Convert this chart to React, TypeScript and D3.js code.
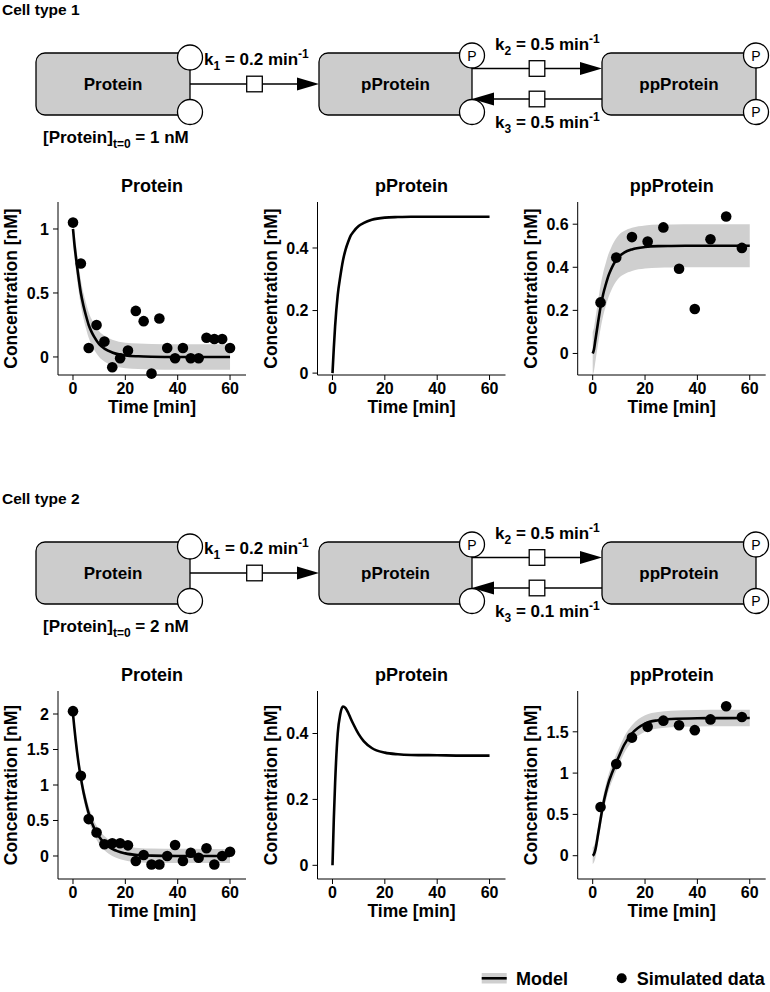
import * as d3 from "d3"

const FONT = '"Liberation Sans", Arial, Helvetica, sans-serif'

// model sample times [min]
const modelTimes = [0, 0.5, 1, 2, 3, 4, 5, 6, 7, 8, 10, 12, 15, 20, 25, 30, 40, 50, 60]
// observation times [min]
const obsTimes = [0, 3, 6, 9, 12, 15, 18, 21, 24, 27, 30, 33, 36, 39, 42, 45, 48, 51, 54, 57, 60]
const ppObsTimes = [3, 9, 15, 21, 27, 33, 39, 45, 51, 57]

// cell type 1
const c1ProteinModel = [1.0, 0.89, 0.8, 0.64, 0.5, 0.4, 0.32, 0.25, 0.2, 0.16, 0.1, 0.065, 0.035, 0.012, 0.005, 0.002, 0, 0, 0]
const c1pProteinModel = [0, 0.08, 0.15, 0.25, 0.31, 0.36, 0.395, 0.42, 0.44, 0.452, 0.47, 0.48, 0.49, 0.497, 0.499, 0.5, 0.5, 0.5, 0.5]
const c1ppProteinModel = [0, 0.02, 0.06, 0.14, 0.215, 0.275, 0.32, 0.36, 0.39, 0.415, 0.45, 0.468, 0.483, 0.494, 0.498, 0.499, 0.5, 0.5, 0.5]
const c1ProteinData = [1.05, 0.73, 0.07, 0.25, 0.12, -0.08, -0.01, 0.05, 0.36, 0.28, -0.13, 0.3, 0.07, -0.01, 0.07, -0.01, -0.01, 0.15, 0.14, 0.14, 0.07]
const c1ppProteinData = [0.237, 0.445, 0.54, 0.52, 0.585, 0.393, 0.206, 0.53, 0.636, 0.49]

// cell type 2
const c2ProteinModel = [2.0, 1.81, 1.64, 1.34, 1.1, 0.9, 0.74, 0.6, 0.49, 0.4, 0.27, 0.18, 0.1, 0.037, 0.013, 0.005, 0.001, 0, 0]
const c2pProteinModel = [0, 0.14, 0.25, 0.4, 0.46, 0.482, 0.477, 0.463, 0.445, 0.428, 0.398, 0.376, 0.356, 0.342, 0.337, 0.335, 0.334, 0.333, 0.333]
const c2ppProteinModel = [0, 0.02, 0.07, 0.25, 0.44, 0.62, 0.76, 0.88, 0.97, 1.05, 1.2, 1.34, 1.48, 1.6, 1.64, 1.655, 1.664, 1.666, 1.667]
const c2ProteinData = [2.04, 1.13, 0.52, 0.33, 0.165, 0.18, 0.18, 0.15, -0.07, 0.015, -0.12, -0.12, 0.0, 0.155, -0.07, 0.046, -0.024, 0.11, -0.12, 0.0, 0.06]
const c2ppProteinData = [0.59, 1.11, 1.43, 1.56, 1.635, 1.58, 1.52, 1.65, 1.81, 1.68]

const bandHalfWidth = 0.1
const xDomain: [number, number] = [-5.73, 66.1]
const xTicks = [0, 20, 40, 60]

const c1Ticks = { protein: [0, 0.5, 1], pProtein: [0, 0.2, 0.4], ppProtein: [0, 0.2, 0.4, 0.6] }
const c2Ticks = { protein: [0, 0.5, 1, 1.5, 2], pProtein: [0, 0.2, 0.4], ppProtein: [0, 0.5, 1, 1.5] }

// diagram labels
const cellTypes = [
  { name: "Cell type 1", k1: "0.2", k2: "0.5", k3: "0.5", p0: "1" },
  { name: "Cell type 2", k1: "0.2", k2: "0.5", k3: "0.1", p0: "2" },
]

type PlotSpec = {
  title: string
  yDomain: [number, number]
  yTicks: number[]
  model: number[]
  data?: number[]
  dataTimes?: number[]
}

const plots: PlotSpec[][] = [
  [
    { title: "Protein", yDomain: [-0.141, 1.211], yTicks: c1Ticks.protein, model: c1ProteinModel, data: c1ProteinData, dataTimes: obsTimes },
    { title: "pProtein", yDomain: [-0.006, 0.547], yTicks: c1Ticks.pProtein, model: c1pProteinModel },
    { title: "ppProtein", yDomain: [-0.1, 0.703], yTicks: c1Ticks.ppProtein, model: c1ppProteinModel, data: c1ppProteinData, dataTimes: ppObsTimes },
  ],
  [
    { title: "Protein", yDomain: [-0.324, 2.324], yTicks: c2Ticks.protein, model: c2ProteinModel, data: c2ProteinData, dataTimes: obsTimes },
    { title: "pProtein", yDomain: [-0.0415, 0.529], yTicks: c2Ticks.pProtein, model: c2pProteinModel },
    { title: "ppProtein", yDomain: [-0.282, 1.994], yTicks: c2Ticks.ppProtein, model: c2ppProteinModel, data: c2ppProteinData, dataTimes: ppObsTimes },
  ],
]

const plotLefts = [58, 317.5, 577.7]
const plotW = 188
const plotHeights = [173, 188]
const plotTop = 202
const rowOffset = 489
const BAND = "#cfcfcf"

function Plot({ spec, left, top, h }: { spec: PlotSpec; left: number; top: number; h: number }) {
  const x = d3.scaleLinear().domain(xDomain).range([left, left + plotW])
  const y = d3.scaleLinear().domain(spec.yDomain).range([top + h, top])
  const pts: [number, number][] = modelTimes.map((t, i) => [t, spec.model[i]])
  const line = d3
    .line<[number, number]>()
    .x((d) => x(d[0]))
    .y((d) => y(d[1]))
    .curve(d3.curveMonotoneX)
  const area = d3
    .area<[number, number]>()
    .x((d) => x(d[0]))
    .y0((d) => y(d[1] - bandHalfWidth))
    .y1((d) => y(d[1] + bandHalfWidth))
    .curve(d3.curveMonotoneX)
  const bottom = top + h
  const cx = left + plotW / 2
  return (
    <g>
      <text x={cx} y={top - 10} textAnchor="middle" fontSize={18} fontWeight="bold">
        {spec.title}
      </text>
      {spec.data && <path d={area(pts) ?? ""} fill={BAND} stroke="none" />}
      <path d={line(pts) ?? ""} fill="none" stroke="#000" strokeWidth={2.6} />
      {spec.data &&
        spec.data.map((v, i) => <circle key={i} cx={x(spec.dataTimes![i])} cy={y(v)} r={5.3} fill="#000" />)}
      {/* axes */}
      <line x1={left} x2={left} y1={top} y2={bottom} stroke="#000" strokeWidth={1} />
      <line x1={left} x2={left + plotW} y1={bottom} y2={bottom} stroke="#000" strokeWidth={1} />
      {spec.yTicks.map((t) => (
        <g key={t}>
          <line x1={left - 5} x2={left} y1={y(t)} y2={y(t)} stroke="#000" />
          <text x={left - 9} y={y(t)} dy="0.36em" textAnchor="end" fontSize={16} fontWeight="bold">
            {String(t)}
          </text>
        </g>
      ))}
      {xTicks.map((t) => (
        <g key={t}>
          <line x1={x(t)} x2={x(t)} y1={bottom} y2={bottom + 5} stroke="#000" />
          <text x={x(t)} y={bottom + 19} textAnchor="middle" fontSize={16} fontWeight="bold">
            {String(t)}
          </text>
        </g>
      ))}
      <text x={cx} y={bottom + 38} textAnchor="middle" fontSize={17.5} fontWeight="bold">
        Time [min]
      </text>
      <text
        transform={`translate(${left - 47},${top + h / 2}) rotate(-90)`}
        textAnchor="middle"
        dy="0.35em"
        fontSize={17.5}
        fontWeight="bold"
      >
        Concentration [nM]
      </text>
    </g>
  )
}

function Site({ x, y, p }: { x: number; y: number; p: boolean }) {
  return (
    <g>
      <circle cx={x} cy={y} r={12.5} fill="#fff" stroke="#000" strokeWidth={1.3} />
      {p && (
        <text x={x} y={y} dy="0.36em" textAnchor="middle" fontSize={14}>
          P
        </text>
      )}
    </g>
  )
}

function Reaction({ x1, x2, y, sq }: { x1: number; x2: number; y: number; sq: number }) {
  const dir = Math.sign(x2 - x1)
  const head = 22
  return (
    <g>
      <line x1={x1} x2={x2 - dir * head} y1={y} y2={y} stroke="#000" strokeWidth={1.3} />
      <path d={`M${x2},${y} L${x2 - dir * head},${y - 6.5} L${x2 - dir * head},${y + 6.5} Z`} fill="#000" />
      <rect x={sq - 7.8} y={y - 7.8} width={15.6} height={15.6} fill="#fff" stroke="#000" strokeWidth={1.3} />
    </g>
  )
}

function RateLabel({ x, y, idx, val }: { x: number; y: number; idx: string; val: string }) {
  return (
    <text x={x} y={y} fontSize={17} fontWeight="bold">
      k<tspan fontSize={12} dy={5}>{idx}</tspan>
      <tspan dy={-5}>{` = ${val} min`}</tspan>
      <tspan fontSize={12} dy={-7}>-1</tspan>
    </text>
  )
}

function Diagram({ oy, ct }: { oy: number; ct: (typeof cellTypes)[0] }) {
  const boxTop = 53 + oy
  const boxH = 62
  const boxes = [
    { label: "Protein", x: 36, w: 154 },
    { label: "pProtein", x: 319, w: 153 },
    { label: "ppProtein", x: 602, w: 154 },
  ]
  return (
    <g>
      <text x={2} y={15 + oy} fontSize={15.5} fontWeight="bold">
        {ct.name}
      </text>
      {boxes.map((b) => (
        <g key={b.label}>
          <rect x={b.x} y={boxTop} width={b.w} height={boxH} rx={9} fill="#cccccc" stroke="#000" strokeWidth={1.3} />
          <text x={b.x + b.w / 2} y={boxTop + 37} textAnchor="middle" fontSize={17} fontWeight="bold">
            {b.label}
          </text>
        </g>
      ))}
      <Reaction x1={190} x2={319} y={84 + oy} sq={254.5} />
      <Reaction x1={472} x2={602} y={68.5 + oy} sq={537} />
      <Reaction x1={602} x2={472} y={99 + oy} sq={537} />
      <Site x={190} y={57.5 + oy} p={false} />
      <Site x={190} y={112 + oy} p={false} />
      <Site x={472} y={55.5 + oy} p={true} />
      <Site x={472} y={112 + oy} p={false} />
      <Site x={756} y={55.5 + oy} p={true} />
      <Site x={756} y={112 + oy} p={true} />
      <RateLabel x={204} y={65 + oy} idx="1" val={ct.k1} />
      <RateLabel x={495} y={50 + oy} idx="2" val={ct.k2} />
      <RateLabel x={495} y={127.5 + oy} idx="3" val={ct.k3} />
      <text x={43} y={143 + oy} fontSize={17} fontWeight="bold">
        [Protein]<tspan fontSize={12} dy={5}>t=0</tspan>
        <tspan dy={-5}>{` = ${ct.p0} nM`}</tspan>
      </text>
    </g>
  )
}

export default function App() {
  return (
    <svg
      width={770}
      height={992}
      style={{ position: "absolute", left: 0, top: 0, background: "#fff" }}
      fontFamily={FONT}
    >
      {cellTypes.map((ct, r) => (
        <g key={ct.name}>
          <Diagram oy={r * rowOffset} ct={ct} />
          {plots[r].map((spec, c) => (
            <Plot key={c} spec={spec} left={plotLefts[c]} top={plotTop + r * rowOffset} h={plotHeights[r]} />
          ))}
        </g>
      ))}
      {/* legend */}
      <rect x={481.7} y={973} width={25} height={10.5} fill={BAND} />
      <line x1={481.7} x2={506.7} y1={978.3} y2={978.3} stroke="#000" strokeWidth={2.6} />
      <text x={516} y={984.5} fontSize={18} fontWeight="bold">
        Model
      </text>
      <circle cx={621.7} cy={978.3} r={5} fill="#000" />
      <text x={636.7} y={984.5} fontSize={18} fontWeight="bold">
        Simulated data
      </text>
    </svg>
  )
}
